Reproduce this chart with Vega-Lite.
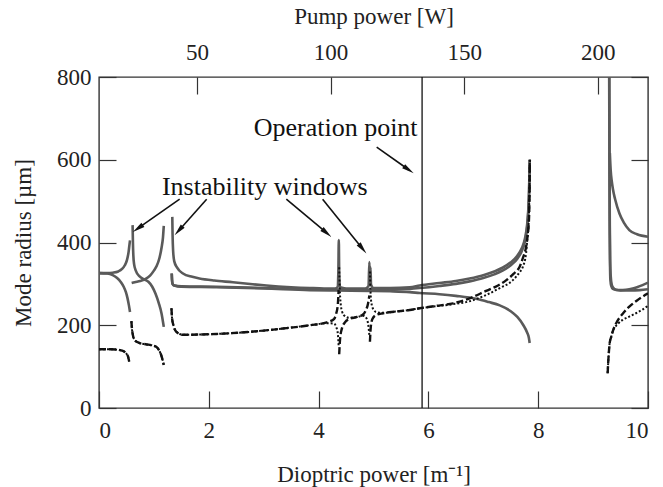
{
  "$schema": "https://vega.github.io/schema/vega-lite/v6.json",
  "width": 549,
  "height": 331,
  "autosize": {"type": "none"},
  "padding": {"left": 99, "top": 77, "right": 15, "bottom": 79},
  "background": "white",
  "config": {
    "view": {"stroke": "#333", "strokeWidth": 1.4},
    "axis": {
      "grid": false, "domain": false, "tickSize": -17, "tickColor": "#333", "tickWidth": 1.2,
      "labelFont": "Liberation Serif", "labelFontSize": 23, "labelColor": "#222",
      "titleFont": "Liberation Serif", "titleFontSize": 23, "titleFontWeight": "normal", "titleColor": "#222",
      "labelPadding": 25
    }
  },
  "datasets": {
    "gray": [
      {"s":"g1","D":0,"r":326},{"s":"g1","D":0.15,"r":326},{"s":"g1","D":0.25,"r":327},{"s":"g1","D":0.35,"r":330},{"s":"g1","D":0.42,"r":336},{"s":"g1","D":0.47,"r":345},{"s":"g1","D":0.51,"r":358},{"s":"g1","D":0.54,"r":378},{"s":"g1","D":0.555,"r":395},{"s":"g1","D":0.565,"r":405},
      {"s":"g2","D":0,"r":326},{"s":"g2","D":0.15,"r":325},{"s":"g2","D":0.25,"r":321},{"s":"g2","D":0.33,"r":314},{"s":"g2","D":0.4,"r":304},{"s":"g2","D":0.45,"r":293},{"s":"g2","D":0.49,"r":280},{"s":"g2","D":0.52,"r":265},{"s":"g2","D":0.545,"r":248},{"s":"g2","D":0.565,"r":232},
      {"s":"g3","D":0.612,"r":442},{"s":"g3","D":0.618,"r":400},{"s":"g3","D":0.625,"r":370},{"s":"g3","D":0.64,"r":347},{"s":"g3","D":0.67,"r":332},{"s":"g3","D":0.74,"r":318},{"s":"g3","D":0.82,"r":311},{"s":"g3","D":0.9,"r":305},{"s":"g3","D":0.97,"r":293},{"s":"g3","D":1.03,"r":276},{"s":"g3","D":1.09,"r":253},{"s":"g3","D":1.14,"r":228},{"s":"g3","D":1.18,"r":196},
      {"s":"g4","D":0.595,"r":302},{"s":"g4","D":0.65,"r":304},{"s":"g4","D":0.75,"r":307},{"s":"g4","D":0.85,"r":312},{"s":"g4","D":0.93,"r":320},{"s":"g4","D":1.0,"r":332},{"s":"g4","D":1.05,"r":343},{"s":"g4","D":1.1,"r":362},{"s":"g4","D":1.14,"r":388},{"s":"g4","D":1.165,"r":412},{"s":"g4","D":1.18,"r":440},
      {"s":"g5","D":1.335,"r":462},{"s":"g5","D":1.34,"r":420},{"s":"g5","D":1.35,"r":380},{"s":"g5","D":1.37,"r":355},{"s":"g5","D":1.42,"r":340},{"s":"g5","D":1.53,"r":325},{"s":"g5","D":1.7,"r":317},{"s":"g5","D":1.83,"r":313},{"s":"g5","D":2.1,"r":308},{"s":"g5","D":2.44,"r":304},{"s":"g5","D":2.8,"r":299},{"s":"g5","D":3.05,"r":296},{"s":"g5","D":3.5,"r":292},{"s":"g5","D":3.84,"r":290},{"s":"g5","D":4.1,"r":289},{"s":"g5","D":4.3,"r":289},{"s":"g5","D":4.345,"r":292},{"s":"g5","D":4.36,"r":330},{"s":"g5","D":4.368,"r":406},{"s":"g5","D":4.375,"r":330},{"s":"g5","D":4.39,"r":292},{"s":"g5","D":4.5,"r":289},{"s":"g5","D":4.85,"r":289},{"s":"g5","D":4.91,"r":295},{"s":"g5","D":4.925,"r":353},{"s":"g5","D":4.935,"r":305},{"s":"g5","D":4.945,"r":340},{"s":"g5","D":4.955,"r":298},{"s":"g5","D":5.0,"r":290},{"s":"g5","D":5.3,"r":290},{"s":"g5","D":5.66,"r":292},{"s":"g5","D":5.84,"r":296},{"s":"g5","D":6.2,"r":302},{"s":"g5","D":6.5,"r":307},{"s":"g5","D":6.75,"r":313},{"s":"g5","D":7.0,"r":321},{"s":"g5","D":7.2,"r":330},{"s":"g5","D":7.35,"r":339},{"s":"g5","D":7.5,"r":352},{"s":"g5","D":7.62,"r":368},{"s":"g5","D":7.7,"r":386},{"s":"g5","D":7.76,"r":410},{"s":"g5","D":7.8,"r":445},{"s":"g5","D":7.82,"r":480},{"s":"g5","D":7.835,"r":530},{"s":"g5","D":7.845,"r":600},
      {"s":"g6","D":1.325,"r":325},{"s":"g6","D":1.33,"r":310},{"s":"g6","D":1.34,"r":300},{"s":"g6","D":1.37,"r":296},{"s":"g6","D":1.5,"r":294},{"s":"g6","D":2.14,"r":293},{"s":"g6","D":3.0,"r":290},{"s":"g6","D":3.84,"r":287},{"s":"g6","D":4.3,"r":286},{"s":"g6","D":5.0,"r":286},{"s":"g6","D":5.3,"r":286},{"s":"g6","D":5.66,"r":288},{"s":"g6","D":5.84,"r":290},{"s":"g6","D":6.2,"r":295},{"s":"g6","D":6.5,"r":300},{"s":"g6","D":6.75,"r":306},{"s":"g6","D":7.0,"r":314},{"s":"g6","D":7.2,"r":323},{"s":"g6","D":7.35,"r":332},{"s":"g6","D":7.5,"r":345},{"s":"g6","D":7.62,"r":361},{"s":"g6","D":7.7,"r":379},{"s":"g6","D":7.76,"r":403},{"s":"g6","D":7.8,"r":438},{"s":"g6","D":7.82,"r":474},{"s":"g6","D":7.835,"r":525},{"s":"g6","D":7.845,"r":595},
      {"s":"g7","D":1.325,"r":325},{"s":"g7","D":1.33,"r":310},{"s":"g7","D":1.34,"r":300},{"s":"g7","D":1.37,"r":296},{"s":"g7","D":1.5,"r":293},{"s":"g7","D":2.14,"r":292},{"s":"g7","D":3.0,"r":289},{"s":"g7","D":3.84,"r":285},{"s":"g7","D":4.3,"r":284},{"s":"g7","D":5.0,"r":283},{"s":"g7","D":5.3,"r":282},{"s":"g7","D":5.66,"r":280},{"s":"g7","D":5.84,"r":278},{"s":"g7","D":6.2,"r":275},{"s":"g7","D":6.5,"r":271},{"s":"g7","D":6.87,"r":264},{"s":"g7","D":7.1,"r":256},{"s":"g7","D":7.3,"r":248},{"s":"g7","D":7.5,"r":234},{"s":"g7","D":7.62,"r":220},{"s":"g7","D":7.73,"r":200},{"s":"g7","D":7.8,"r":182},{"s":"g7","D":7.83,"r":170},{"s":"g7","D":7.845,"r":157},
      {"s":"g8","D":9.293,"r":800},{"s":"g8","D":9.298,"r":600},{"s":"g8","D":9.302,"r":450},{"s":"g8","D":9.308,"r":350},{"s":"g8","D":9.315,"r":310},{"s":"g8","D":9.33,"r":295},{"s":"g8","D":9.36,"r":288},{"s":"g8","D":9.42,"r":286},{"s":"g8","D":9.5,"r":285},{"s":"g8","D":9.6,"r":286},{"s":"g8","D":9.7,"r":288},{"s":"g8","D":9.8,"r":292},{"s":"g8","D":9.9,"r":297},{"s":"g8","D":10,"r":303},
      {"s":"g9","D":9.295,"r":800},{"s":"g9","D":9.3,"r":560},{"s":"g9","D":9.305,"r":420},{"s":"g9","D":9.31,"r":360},{"s":"g9","D":9.32,"r":320},{"s":"g9","D":9.34,"r":298},{"s":"g9","D":9.37,"r":290},{"s":"g9","D":9.42,"r":285},{"s":"g9","D":9.5,"r":284},{"s":"g9","D":9.7,"r":284},{"s":"g9","D":9.85,"r":285},{"s":"g9","D":10,"r":287},
      {"s":"g10","D":9.305,"r":616},{"s":"g10","D":9.32,"r":575},{"s":"g10","D":9.34,"r":548},{"s":"g10","D":9.36,"r":530},{"s":"g10","D":9.4,"r":505},{"s":"g10","D":9.48,"r":470},{"s":"g10","D":9.56,"r":448},{"s":"g10","D":9.66,"r":430},{"s":"g10","D":9.8,"r":420},{"s":"g10","D":10,"r":414}
    ],
    "dash": [
      {"s":"d1","D":0,"r":142},{"s":"d1","D":0.2,"r":142},{"s":"d1","D":0.38,"r":140},{"s":"d1","D":0.45,"r":137},{"s":"d1","D":0.5,"r":131},{"s":"d1","D":0.53,"r":124},{"s":"d1","D":0.55,"r":112},
      {"s":"d2","D":0.59,"r":210},{"s":"d2","D":0.6,"r":192},{"s":"d2","D":0.615,"r":178},{"s":"d2","D":0.65,"r":164},{"s":"d2","D":0.74,"r":157},{"s":"d2","D":0.85,"r":154},{"s":"d2","D":0.98,"r":151},{"s":"d2","D":1.06,"r":146},{"s":"d2","D":1.1,"r":138},{"s":"d2","D":1.14,"r":125},{"s":"d2","D":1.18,"r":104},
      {"s":"d3","D":1.32,"r":241},{"s":"d3","D":1.33,"r":218},{"s":"d3","D":1.36,"r":198},{"s":"d3","D":1.41,"r":184},{"s":"d3","D":1.53,"r":177},{"s":"d3","D":2.14,"r":179},{"s":"d3","D":2.74,"r":184},{"s":"d3","D":3.35,"r":192},{"s":"d3","D":3.84,"r":200},{"s":"d3","D":4.15,"r":207},{"s":"d3","D":4.28,"r":215},{"s":"d3","D":4.32,"r":228},{"s":"d3","D":4.35,"r":250},{"s":"d3","D":4.365,"r":285},
      {"s":"d4","D":4.375,"r":130},{"s":"d4","D":4.39,"r":165},{"s":"d4","D":4.42,"r":190},{"s":"d4","D":4.48,"r":207},{"s":"d4","D":4.56,"r":215},{"s":"d4","D":4.7,"r":220},{"s":"d4","D":4.81,"r":226},{"s":"d4","D":4.86,"r":236},{"s":"d4","D":4.9,"r":252},{"s":"d4","D":4.925,"r":272},
      {"s":"d5","D":4.935,"r":160},{"s":"d5","D":4.95,"r":195},{"s":"d5","D":4.98,"r":215},{"s":"d5","D":5.05,"r":225},{"s":"d5","D":5.17,"r":229},{"s":"d5","D":5.4,"r":233},{"s":"d5","D":5.66,"r":237},{"s":"d5","D":5.84,"r":241},{"s":"d5","D":6.15,"r":247},{"s":"d5","D":6.45,"r":253},{"s":"d5","D":6.75,"r":265},{"s":"d5","D":7.05,"r":283},{"s":"d5","D":7.25,"r":295},{"s":"d5","D":7.42,"r":309},{"s":"d5","D":7.55,"r":324},{"s":"d5","D":7.66,"r":341},{"s":"d5","D":7.72,"r":362},{"s":"d5","D":7.78,"r":390},{"s":"d5","D":7.81,"r":420},{"s":"d5","D":7.83,"r":450},{"s":"d5","D":7.84,"r":500},{"s":"d5","D":7.848,"r":600},
      {"s":"d6","D":9.265,"r":84},{"s":"d6","D":9.275,"r":110},{"s":"d6","D":9.29,"r":140},{"s":"d6","D":9.3,"r":155},{"s":"d6","D":9.33,"r":172},{"s":"d6","D":9.37,"r":190},{"s":"d6","D":9.42,"r":205},{"s":"d6","D":9.54,"r":228},{"s":"d6","D":9.66,"r":245},{"s":"d6","D":9.8,"r":260},{"s":"d6","D":9.9,"r":269},{"s":"d6","D":10,"r":277}
    ],
    "dot": [
      {"s":"t1","D":0,"r":142},{"s":"t1","D":0.2,"r":142},{"s":"t1","D":0.38,"r":140},{"s":"t1","D":0.45,"r":137},{"s":"t1","D":0.5,"r":131},{"s":"t1","D":0.53,"r":124},{"s":"t1","D":0.55,"r":112},
      {"s":"t2","D":0.59,"r":210},{"s":"t2","D":0.6,"r":192},{"s":"t2","D":0.615,"r":178},{"s":"t2","D":0.65,"r":164},{"s":"t2","D":0.74,"r":157},{"s":"t2","D":0.85,"r":154},{"s":"t2","D":0.98,"r":151},{"s":"t2","D":1.06,"r":146},{"s":"t2","D":1.1,"r":138},{"s":"t2","D":1.14,"r":125},{"s":"t2","D":1.18,"r":104},
      {"s":"t3","D":1.32,"r":241},{"s":"t3","D":1.33,"r":218},{"s":"t3","D":1.36,"r":198},{"s":"t3","D":1.41,"r":184},{"s":"t3","D":1.53,"r":177},{"s":"t3","D":2.14,"r":179},{"s":"t3","D":2.74,"r":184},{"s":"t3","D":3.35,"r":192},{"s":"t3","D":3.84,"r":200},{"s":"t3","D":4.15,"r":205},{"s":"t3","D":4.28,"r":204},{"s":"t3","D":4.32,"r":196},{"s":"t3","D":4.35,"r":180},{"s":"t3","D":4.365,"r":150},
      {"s":"t4","D":4.375,"r":340},{"s":"t4","D":4.385,"r":290},{"s":"t4","D":4.4,"r":255},{"s":"t4","D":4.43,"r":232},{"s":"t4","D":4.48,"r":222},{"s":"t4","D":4.56,"r":218},{"s":"t4","D":4.7,"r":220},{"s":"t4","D":4.81,"r":223},{"s":"t4","D":4.86,"r":219},{"s":"t4","D":4.9,"r":205},{"s":"t4","D":4.925,"r":175},
      {"s":"t5","D":4.935,"r":330},{"s":"t5","D":4.945,"r":285},{"s":"t5","D":4.96,"r":255},{"s":"t5","D":5.0,"r":238},{"s":"t5","D":5.05,"r":232},{"s":"t5","D":5.17,"r":230},{"s":"t5","D":5.4,"r":233},{"s":"t5","D":5.66,"r":237},{"s":"t5","D":5.84,"r":241},{"s":"t5","D":6.15,"r":246},{"s":"t5","D":6.45,"r":251},{"s":"t5","D":6.75,"r":258},{"s":"t5","D":7.05,"r":273},{"s":"t5","D":7.3,"r":290},{"s":"t5","D":7.54,"r":309},{"s":"t5","D":7.66,"r":328},{"s":"t5","D":7.72,"r":341},{"s":"t5","D":7.78,"r":375},{"s":"t5","D":7.8,"r":406},{"s":"t5","D":7.83,"r":460},{"s":"t5","D":7.84,"r":520},{"s":"t5","D":7.848,"r":600},
      {"s":"t6","D":9.265,"r":84},{"s":"t6","D":9.275,"r":110},{"s":"t6","D":9.29,"r":140},{"s":"t6","D":9.3,"r":155},{"s":"t6","D":9.33,"r":172},{"s":"t6","D":9.36,"r":186},{"s":"t6","D":9.45,"r":203},{"s":"t6","D":9.54,"r":213},{"s":"t6","D":9.66,"r":221},{"s":"t6","D":9.78,"r":229},{"s":"t6","D":9.9,"r":238},{"s":"t6","D":10,"r":247}
    ]
  },
  "layer": [
    {
      "layer": [
        {
          "data": {"name": "gray"},
          "mark": {"type": "line", "interpolate": "monotone", "color": "#5a5a5a", "strokeWidth": 2.6, "clip": true},
          "encoding": {
            "x": {"field": "D", "type": "quantitative", "title": "Dioptric power [m⁻¹]", "scale": {"domain": [0, 10], "nice": false},
                  "axis": {"values": [0, 2, 4, 6, 8, 10], "orient": "bottom", "labelPadding": 28, "titlePadding": 21}},
            "y": {"field": "r", "type": "quantitative", "title": "Mode radius [µm]", "scale": {"domain": [0, 800], "nice": false},
                  "axis": {"values": [0, 200, 400, 600, 800], "orient": "left", "titlePadding": 21}},
            "detail": {"field": "s"}
          }
        },
        {
          "data": {"name": "dot"},
          "mark": {"type": "line", "interpolate": "monotone", "color": "#111", "strokeWidth": 2, "strokeDash": [2, 2], "clip": true},
          "encoding": {
            "x": {"field": "D", "type": "quantitative", "title": "Dioptric power [m⁻¹]"},
            "y": {"field": "r", "type": "quantitative", "title": "Mode radius [µm]"},
            "detail": {"field": "s"}
          }
        },
        {
          "data": {"name": "dash"},
          "mark": {"type": "line", "interpolate": "monotone", "color": "#111", "strokeWidth": 2.4, "strokeDash": [7, 3], "clip": true},
          "encoding": {
            "x": {"field": "D", "type": "quantitative", "title": "Dioptric power [m⁻¹]"},
            "y": {"field": "r", "type": "quantitative", "title": "Mode radius [µm]"},
            "detail": {"field": "s"}
          }
        },
        {
          "data": {"values": [{"D": 5.885}]},
          "mark": {"type": "rule", "color": "#111", "strokeWidth": 1.3},
          "encoding": {"x": {"field": "D", "type": "quantitative", "title": "Dioptric power [m⁻¹]"}}
        },
        {
          "data": {"values": [
            {"D": 4.31, "r": 676, "label": "Operation point"},
            {"D": 3.02, "r": 534, "label": "Instability windows"}
          ]},
          "mark": {"type": "text", "font": "Liberation Serif", "fontSize": 26, "color": "#111", "align": "center", "baseline": "middle"},
          "encoding": {
            "x": {"field": "D", "type": "quantitative", "title": "Dioptric power [m⁻¹]"},
            "y": {"field": "r", "type": "quantitative", "title": "Mode radius [µm]"},
            "text": {"field": "label"}
          }
        },
        {
          "data": {"values": [
            {"D": 5.058, "r": 630.3, "D2": 5.641, "r2": 575.8},
            {"D": 1.469, "r": 504.7, "D2": 0.708, "r2": 434},
            {"D": 1.961, "r": 504.7, "D2": 1.451, "r2": 428.6},
            {"D": 3.412, "r": 504.7, "D2": 4.148, "r2": 423},
            {"D": 4.073, "r": 504.7, "D2": 4.80, "r2": 385}
          ]},
          "mark": {"type": "rule", "color": "#111", "strokeWidth": 1.6},
          "encoding": {
            "x": {"field": "D", "type": "quantitative", "title": "Dioptric power [m⁻¹]"},
            "y": {"field": "r", "type": "quantitative", "title": "Mode radius [µm]"},
            "x2": {"field": "D2"},
            "y2": {"field": "r2"}
          }
        },
        {
          "data": {"values": [{"D": 5.641, "r": 575.8}]},
          "mark": {"type": "point", "shape": "M0,-1L0.42,1L-0.42,1Z", "filled": true, "color": "#111", "opacity": 1, "size": 150, "angle": 125},
          "encoding": {"x": {"field": "D", "type": "quantitative", "title": "Dioptric power [m⁻¹]"}, "y": {"field": "r", "type": "quantitative", "title": "Mode radius [µm]"}}
        },
        {
          "data": {"values": [{"D": 0.708, "r": 434}]},
          "mark": {"type": "point", "shape": "M0,-1L0.42,1L-0.42,1Z", "filled": true, "color": "#111", "opacity": 1, "size": 150, "angle": 235},
          "encoding": {"x": {"field": "D", "type": "quantitative", "title": "Dioptric power [m⁻¹]"}, "y": {"field": "r", "type": "quantitative", "title": "Mode radius [µm]"}}
        },
        {
          "data": {"values": [{"D": 1.451, "r": 428.6}]},
          "mark": {"type": "point", "shape": "M0,-1L0.42,1L-0.42,1Z", "filled": true, "color": "#111", "opacity": 1, "size": 150, "angle": 221.6},
          "encoding": {"x": {"field": "D", "type": "quantitative", "title": "Dioptric power [m⁻¹]"}, "y": {"field": "r", "type": "quantitative", "title": "Mode radius [µm]"}}
        },
        {
          "data": {"values": [{"D": 4.148, "r": 423}]},
          "mark": {"type": "point", "shape": "M0,-1L0.42,1L-0.42,1Z", "filled": true, "color": "#111", "opacity": 1, "size": 150, "angle": 130},
          "encoding": {"x": {"field": "D", "type": "quantitative", "title": "Dioptric power [m⁻¹]"}, "y": {"field": "r", "type": "quantitative", "title": "Mode radius [µm]"}}
        },
        {
          "data": {"values": [{"D": 4.80, "r": 385}]},
          "mark": {"type": "point", "shape": "M0,-1L0.42,1L-0.42,1Z", "filled": true, "color": "#111", "opacity": 1, "size": 150, "angle": 141.2},
          "encoding": {"x": {"field": "D", "type": "quantitative", "title": "Dioptric power [m⁻¹]"}, "y": {"field": "r", "type": "quantitative", "title": "Mode radius [µm]"}}
        }
      ]
    },
    {
      "data": {"values": [{"P": 13.35, "r": 0}, {"P": 218.8, "r": 800}]},
      "mark": {"type": "point", "opacity": 0},
      "encoding": {
        "x": {"field": "P", "type": "quantitative", "title": "Pump power [W]", "scale": {"domain": [13.35, 218.8], "nice": false, "zero": false},
              "axis": {"orient": "top", "values": [50, 100, 150, 200], "labelPadding": 30, "titlePadding": 13}},
        "y": {"field": "r", "type": "quantitative", "title": null, "scale": {"domain": [0, 800], "nice": false},
              "axis": {"orient": "right", "values": [0, 200, 400, 600, 800], "labels": false}}
      }
    }
  ],
  "resolve": {"scale": {"x": "independent", "y": "independent"}}
}
